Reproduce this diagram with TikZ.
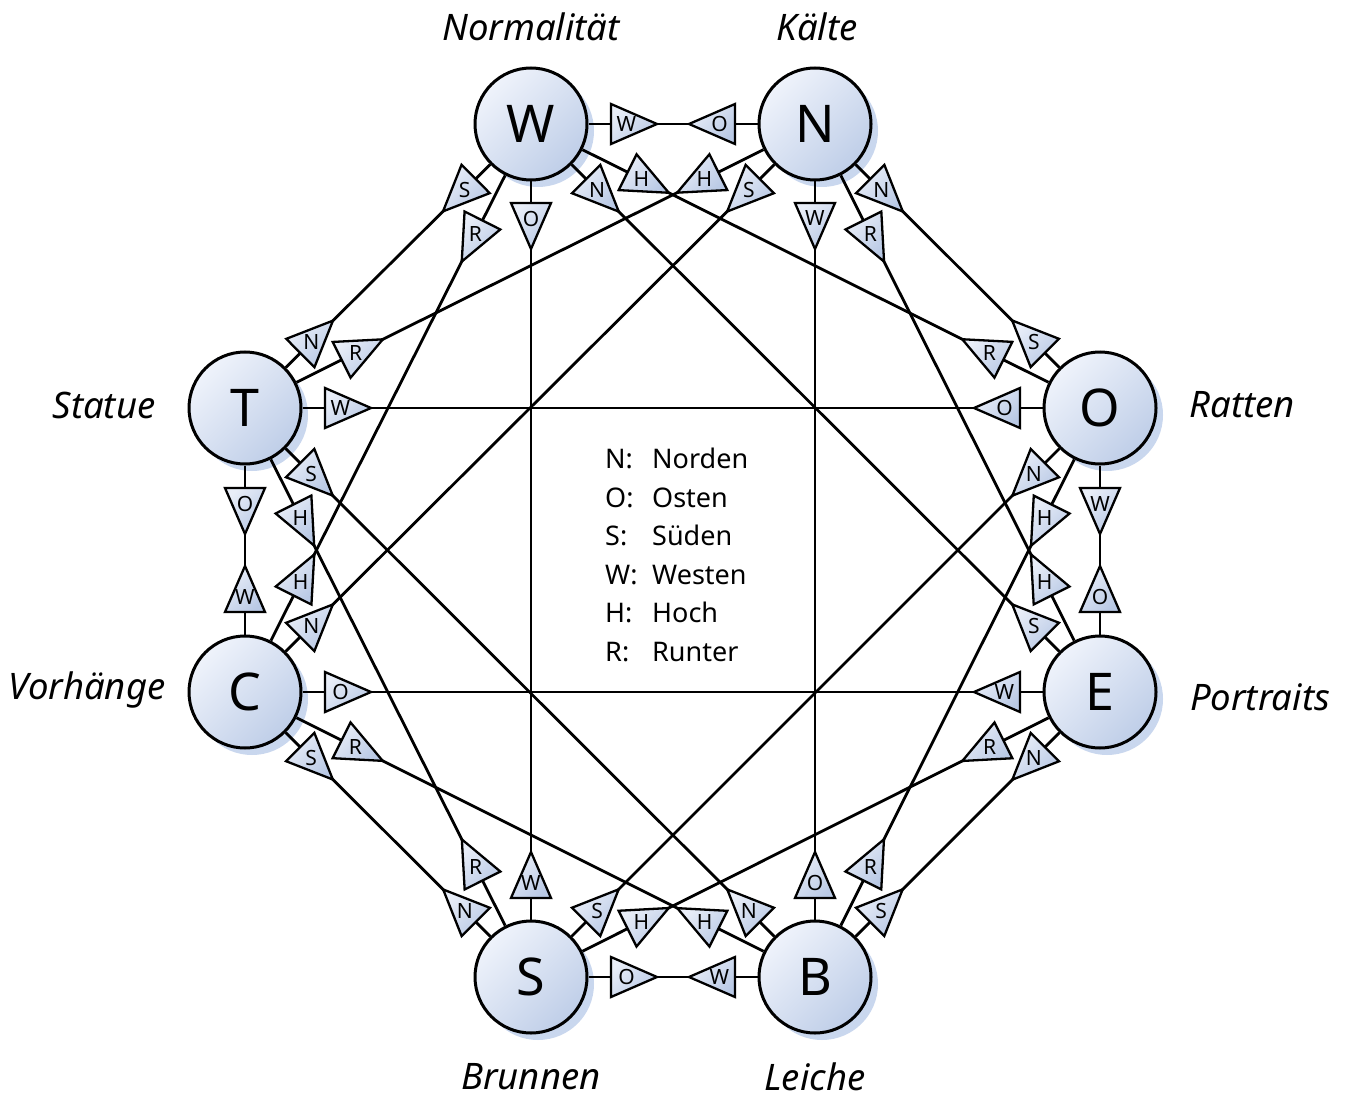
\documentclass[tikz,border=0pt]{standalone}
\usepackage{fontspec}
\setmainfont{Noto Sans}
\usetikzlibrary{calc,shadows}
\definecolor{lite}{HTML}{EFF3FB}
\definecolor{dark}{HTML}{BFCEE8}
\definecolor{shd}{HTML}{C9D7EE}
\definecolor{tlite}{HTML}{E9EEF8}
\definecolor{tdark}{HTML}{B9C9E5}
\newcommand\mytri[4]{%
  \coordinate (tb) at ($(#1.center)!#3!(#2.center)$);
  \coordinate (tt) at ($(#1.center)!#3+46pt!(#2.center)$);
  \path[tristyle] ($(tb)!20pt!90:(tt)$) -- (tt) -- ($(tb)!20pt!-90:(tt)$) -- cycle;
  \node[trilabel] (l#1#2) at ($(#1.center)!#3+15.5pt!(#2.center)$) {#4};}
\begin{document}
\begin{tikzpicture}[x=1pt,y=-1pt,
  big/.style={circle, draw, line width=3pt, minimum size=112pt, inner sep=0pt,
    top color=lite, bottom color=dark, shading angle=45,
    font=\fontsize{52}{52}\selectfont,
    drop shadow={shadow xshift=7pt, shadow yshift=-7pt, fill=shd, opacity=1}},
  link/.style={line width=2.8pt},
  tristyle/.style={draw, line width=2.3pt, line join=miter,
    top color=tlite, bottom color=tdark, shading angle=45},
  trilabel/.style={inner sep=0pt, font=\fontsize{21}{21}\selectfont},
  lab/.style={inner sep=0pt, font=\itshape\fontsize{36.5}{40}\selectfont}]
\useasboundingbox (0,0) rectangle (1351,1099);
\fill[white] (0,0) rectangle (1351,1099);

\node[big] (nW) at (531,124) {W};
\node[big] (nN) at (815,124) {N};
\node[big] (nO) at (1100,408) {O};
\node[big] (nE) at (1100,692) {E};
\node[big] (nB) at (815,977) {B};
\node[big] (nS) at (531,977) {S};
\node[big] (nC) at (245,692) {C};
\node[big] (nT) at (245,408) {T};

\node[lab] (tW) at (531,27) {Normalität};
\node[lab] (tN) at (817,27) {Kälte};
\node[lab] (tO) at (1242,405) {Ratten};
\node[lab] (tE) at (1260,697) {Portraits};
\node[lab] (tB) at (815,1077) {Leiche};
\node[lab] (tS) at (531,1077) {Brunnen};
\node[lab] (tC) at (87,690) {Vorhänge};
\node[lab] (tT) at (104,405) {Statue};

\def\edgelist{W/N/W/O/80, W/S/O/W/79, W/E/N/S/78, W/O/H/R/108, W/T/S/N/78, W/C/R/H/108,
  N/B/W/O/79, N/T/H/R/108, N/C/S/N/78, N/O/N/S/78, N/E/R/H/108,
  O/T/O/W/80, O/S/N/S/78, O/B/H/R/108, O/E/W/O/80,
  E/C/W/O/80, E/S/R/H/108, E/B/N/S/78,
  B/S/W/O/80, B/T/N/S/78, B/C/H/R/108,
  S/C/N/S/78, S/T/R/H/108, C/T/W/O/80}
\foreach \a/\b/\la/\lb/\d in \edgelist {\draw[link] (n\a) -- (n\b);}
\foreach \a/\b/\la/\lb/\d in \edgelist {\mytri{n\a}{n\b}{\d pt}{\la}\mytri{n\b}{n\a}{\d pt}{\lb}}

\node[anchor=west, inner sep=0pt, align=left, font=\fontsize{27}{38.6}\selectfont] (legend) at (605,555)
  {\makebox[47pt][l]{N:}Norden\\ \makebox[47pt][l]{O:}Osten\\ \makebox[47pt][l]{S:}Süden\\
   \makebox[47pt][l]{W:}Westen\\ \makebox[47pt][l]{H:}Hoch\\ \makebox[47pt][l]{R:}Runter};
\end{tikzpicture}
\end{document}
